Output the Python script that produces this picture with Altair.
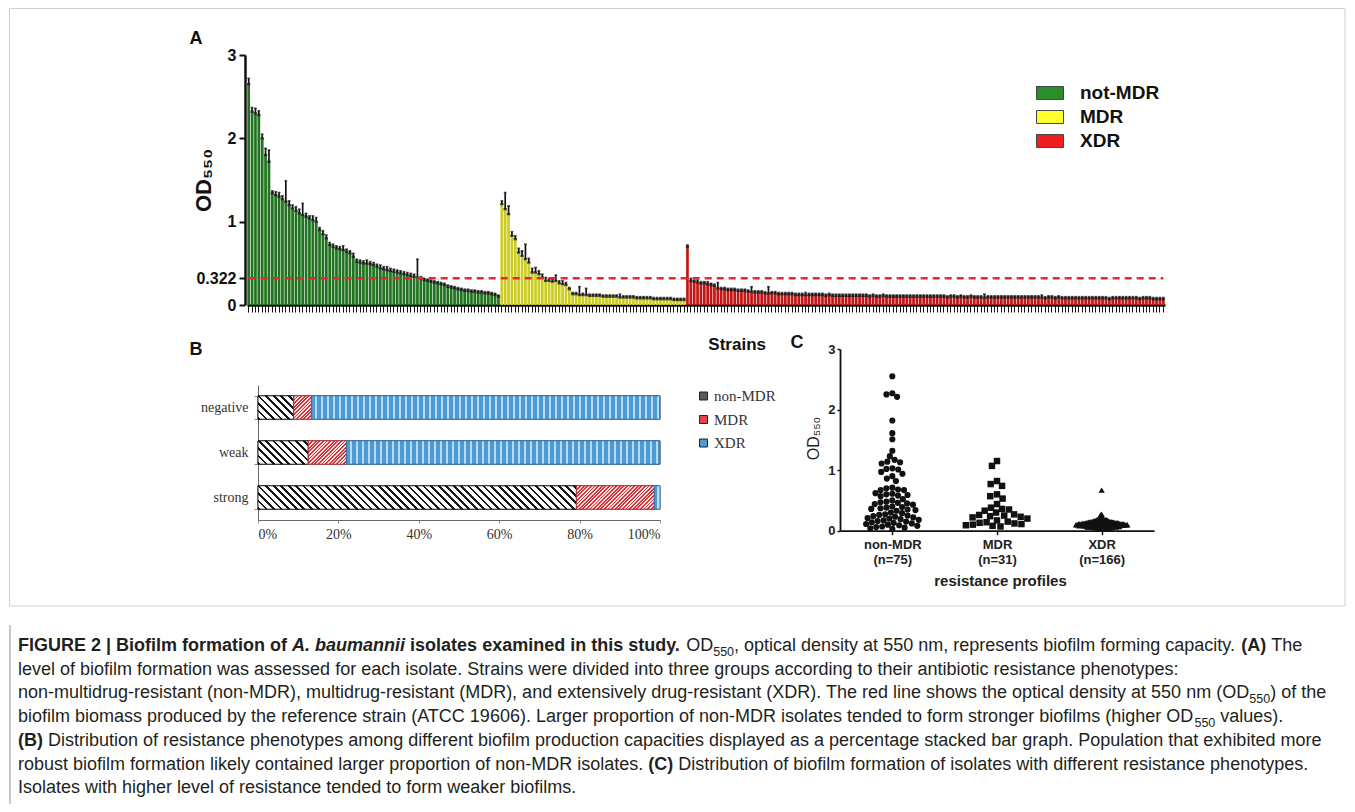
import math
import altair as alt
import pandas as pd

# ============================ DATA ============================
# Panel A : OD550 of every strain (bar) and its error-bar length
A_GROUPS = ["not-MDR", "MDR", "XDR"]
A_NOT_MDR = [
    2.65, 2.32, 2.30, 2.28, 2.00, 1.80, 1.72, 1.34, 1.32, 1.30,
    1.27, 1.24, 1.20, 1.16, 1.13, 1.10, 1.08, 1.06, 1.04, 1.02,
    1.00, 0.90, 0.85, 0.80, 0.72, 0.70, 0.68, 0.67, 0.66, 0.64,
    0.62, 0.58, 0.52, 0.51, 0.50, 0.50, 0.49, 0.48, 0.46, 0.44,
    0.43, 0.42, 0.41, 0.40, 0.39, 0.38, 0.37, 0.36, 0.35, 0.34,
    0.33, 0.32, 0.30, 0.29, 0.28, 0.27, 0.26, 0.25, 0.24, 0.22,
    0.21, 0.20, 0.19, 0.18, 0.17, 0.17, 0.16, 0.16, 0.15, 0.15,
    0.14, 0.14, 0.13, 0.12, 0.10,
]
A_NOT_MDR_ERR = [
    0.07, 0.05, 0.06, 0.05, 0.05, 0.08, 0.14, 0.03, 0.04, 0.05,
    0.04, 0.25, 0.05, 0.04, 0.05, 0.05, 0.14, 0.04, 0.03, 0.05,
    0.05, 0.03, 0.04, 0.04, 0.03, 0.03, 0.03, 0.03, 0.05, 0.03,
    0.03, 0.04, 0.03, 0.03, 0.03, 0.04, 0.03, 0.03, 0.03, 0.04,
    0.03, 0.04, 0.03, 0.03, 0.03, 0.03, 0.03, 0.03, 0.03, 0.03,
    0.22, 0.02, 0.02, 0.02, 0.02, 0.02, 0.02, 0.02, 0.02, 0.02,
    0.02, 0.02, 0.02, 0.02, 0.02, 0.02, 0.02, 0.02, 0.02, 0.02,
    0.02, 0.02, 0.02, 0.02, 0.02,
]
A_MDR = [
    1.21, 1.15, 1.09, 0.83, 0.79, 0.63, 0.59, 0.55, 0.51, 0.39,
    0.39, 0.37, 0.33, 0.29, 0.29, 0.28, 0.29, 0.26, 0.25, 0.24,
    0.19, 0.13, 0.13, 0.12, 0.12, 0.12, 0.11, 0.11, 0.11, 0.11,
    0.10, 0.10, 0.10, 0.10, 0.10, 0.09, 0.09, 0.09, 0.09, 0.09,
    0.08, 0.08, 0.08, 0.08, 0.08, 0.07, 0.07, 0.07, 0.07, 0.07,
    0.07, 0.06, 0.06, 0.06, 0.06,
]
A_MDR_ERR = [
    0.04, 0.20, 0.10, 0.05, 0.04, 0.05, 0.06, 0.18, 0.05, 0.05,
    0.06, 0.04, 0.04, 0.04, 0.03, 0.03, 0.07, 0.03, 0.04, 0.03,
    0.02, 0.02, 0.02, 0.10, 0.02, 0.08, 0.02, 0.02, 0.02, 0.02,
    0.02, 0.02, 0.02, 0.02, 0.02, 0.04, 0.02, 0.02, 0.02, 0.02,
    0.02, 0.02, 0.02, 0.02, 0.02, 0.02, 0.02, 0.02, 0.02, 0.02,
    0.02, 0.02, 0.02, 0.02, 0.02,
]
A_XDR = [
    0.70, 0.29, 0.28, 0.27, 0.26, 0.26, 0.25, 0.24, 0.23, 0.20,
    0.19, 0.19, 0.18, 0.18, 0.18, 0.17, 0.17, 0.17, 0.16, 0.16,
    0.15, 0.15, 0.15, 0.14, 0.14, 0.14, 0.14, 0.13, 0.13, 0.13,
    0.13, 0.13, 0.12, 0.12, 0.12, 0.12, 0.12, 0.12, 0.12, 0.12,
    0.12, 0.11, 0.12, 0.11, 0.11, 0.11, 0.11, 0.11, 0.11, 0.11,
    0.11, 0.11, 0.11, 0.11, 0.10, 0.11, 0.10, 0.10, 0.11, 0.10,
    0.10, 0.10, 0.10, 0.10, 0.10, 0.10, 0.10, 0.10, 0.10, 0.10,
    0.10, 0.10, 0.10, 0.10, 0.10, 0.10, 0.10, 0.09, 0.10, 0.10,
    0.09, 0.10, 0.09, 0.09, 0.10, 0.09, 0.09, 0.09, 0.09, 0.09,
    0.09, 0.09, 0.09, 0.09, 0.09, 0.09, 0.09, 0.09, 0.09, 0.09,
    0.09, 0.09, 0.09, 0.09, 0.09, 0.09, 0.08, 0.09, 0.09, 0.08,
    0.09, 0.08, 0.08, 0.08, 0.08, 0.08, 0.08, 0.08, 0.08, 0.08,
    0.08, 0.08, 0.08, 0.08, 0.08, 0.07, 0.08, 0.08, 0.08, 0.08,
    0.08, 0.08, 0.08, 0.08, 0.07, 0.08, 0.08, 0.08, 0.07, 0.07,
    0.07, 0.07,
]
A_XDR_ERR = [
    0.02, 0.03, 0.02, 0.03, 0.02, 0.02, 0.03, 0.02, 0.02, 0.07,
    0.02, 0.02, 0.02, 0.02, 0.02, 0.02, 0.02, 0.02, 0.02, 0.06,
    0.02, 0.02, 0.02, 0.02, 0.08, 0.02, 0.02, 0.02, 0.02, 0.02,
    0.02, 0.02, 0.02, 0.02, 0.02, 0.03, 0.02, 0.02, 0.02, 0.02,
    0.02, 0.02, 0.02, 0.02, 0.02, 0.02, 0.02, 0.02, 0.02, 0.02,
    0.02, 0.02, 0.02, 0.02, 0.02, 0.02, 0.02, 0.02, 0.02, 0.02,
    0.02, 0.02, 0.02, 0.02, 0.02, 0.02, 0.02, 0.02, 0.02, 0.02,
    0.02, 0.02, 0.02, 0.02, 0.02, 0.02, 0.02, 0.02, 0.02, 0.02,
    0.02, 0.02, 0.02, 0.02, 0.02, 0.02, 0.02, 0.02, 0.04, 0.02,
    0.02, 0.02, 0.02, 0.02, 0.02, 0.02, 0.02, 0.02, 0.02, 0.02,
    0.02, 0.02, 0.02, 0.02, 0.02, 0.03, 0.02, 0.02, 0.02, 0.02,
    0.02, 0.02, 0.02, 0.02, 0.02, 0.02, 0.02, 0.02, 0.02, 0.02,
    0.02, 0.02, 0.02, 0.02, 0.02, 0.02, 0.02, 0.02, 0.02, 0.02,
    0.02, 0.02, 0.02, 0.02, 0.02, 0.02, 0.02, 0.02, 0.02, 0.02,
    0.02, 0.02,
]
A_THRESHOLD = 0.322
A_YTICKS = [0, 0.322, 1, 2, 3]

# Panel B : percentage of each resistance type within each biofilm class
B_LEVELS = ["negative", "weak", "strong"]
B_TYPES = ["non-MDR", "MDR", "XDR"]
B_NON_MDR = [8.9, 12.5, 79.2]
B_MDR = [4.4, 9.5, 19.4]
B_XDR = [86.7, 78.0, 1.4]
B_XTICKS = [0, 20, 40, 60, 80, 100]

# Panel C : OD550 of every isolate per resistance profile
C_GROUPS = ["non-MDR", "MDR", "XDR"]
C_N = [75, 31, 166]
C_NON_MDR = [
    2.55, 2.27, 2.25, 2.21, 1.82, 1.61, 1.51, 1.32, 1.23, 1.17,
    1.14, 1.13, 1.11, 1.03, 1.02, 1.01, 0.97, 0.94, 0.90, 0.86,
    0.82, 0.71, 0.70, 0.68, 0.67, 0.67, 0.62, 0.61, 0.60, 0.59,
    0.58, 0.57, 0.52, 0.50, 0.48, 0.47, 0.46, 0.45, 0.44, 0.43,
    0.40, 0.39, 0.38, 0.37, 0.36, 0.35, 0.34, 0.33, 0.30, 0.29,
    0.27, 0.26, 0.25, 0.24, 0.23, 0.22, 0.21, 0.20, 0.19, 0.18,
    0.17, 0.16, 0.15, 0.14, 0.13, 0.12, 0.11, 0.10, 0.09, 0.08,
    0.07, 0.06, 0.05, 0.04, 0.03,
]
C_MDR = [
    1.15, 1.07, 0.82, 0.77, 0.74, 0.60, 0.57, 0.53, 0.44, 0.38,
    0.36, 0.35, 0.33, 0.30, 0.27, 0.26, 0.25, 0.24, 0.23, 0.22,
    0.20, 0.17, 0.15, 0.14, 0.13, 0.12, 0.11, 0.10, 0.09, 0.08,
    0.07,
]
C_XDR = [
    0.67, 0.27, 0.26, 0.12, 0.11, 0.10,
    0.21, 0.20, 0.20, 0.19, 0.19, 0.19, 0.18, 0.18, 0.18, 0.18,
    0.17, 0.17, 0.17, 0.17, 0.17, 0.16, 0.16, 0.16, 0.16, 0.16,
    0.16, 0.15, 0.15, 0.15, 0.15, 0.15, 0.15, 0.15, 0.15, 0.14,
    0.14, 0.14, 0.14, 0.14, 0.14, 0.14, 0.14, 0.14, 0.14, 0.13,
    0.13, 0.13, 0.13, 0.13, 0.13, 0.13, 0.13, 0.13, 0.13, 0.13,
    0.13, 0.12, 0.12, 0.12, 0.12, 0.12, 0.12, 0.12, 0.12, 0.12,
    0.12, 0.12, 0.12, 0.12, 0.12, 0.11, 0.11, 0.11, 0.11, 0.11,
    0.11, 0.11, 0.11, 0.11, 0.11, 0.11, 0.11, 0.11, 0.11, 0.11,
    0.11, 0.10, 0.10, 0.10, 0.10, 0.10, 0.10, 0.10, 0.10, 0.10,
    0.10, 0.10, 0.10, 0.10, 0.10, 0.10, 0.10, 0.10, 0.10, 0.09,
    0.09, 0.09, 0.09, 0.09, 0.09, 0.09, 0.09, 0.09, 0.09, 0.09,
    0.09, 0.09, 0.09, 0.09, 0.09, 0.08, 0.08, 0.08, 0.08, 0.08,
    0.08, 0.08, 0.08, 0.08, 0.08, 0.08, 0.08, 0.08, 0.08, 0.07,
    0.07, 0.07, 0.07, 0.07, 0.07, 0.07, 0.07, 0.07, 0.07, 0.07,
    0.07, 0.06, 0.06, 0.06, 0.06, 0.06, 0.06, 0.06, 0.06, 0.06,
    0.05, 0.05, 0.05, 0.05, 0.05, 0.05, 0.04, 0.04, 0.04, 0.04,
]

# Caption text (segments: b = bold, bi = bold italic, r = regular, s = subscript)
CAPTION = [
    [("FIGURE 2 | Biofilm formation of ", "b"), ("A. baumannii", "bi"),
     (" isolates examined in this study.", "b"), (" OD", "r"), ("550", "s"),
     (", optical density at 550 nm, represents biofilm forming capacity. ", "r"),
     ("(A)", "b"), (" The", "r")],
    [("level of biofilm formation was assessed for each isolate. Strains were divided into three groups according to their antibiotic resistance phenotypes:", "r")],
    [("non-multidrug-resistant (non-MDR), multidrug-resistant (MDR), and extensively drug-resistant (XDR). The red line shows the optical density at 550 nm (OD", "r"),
     ("550", "s"), (") of the", "r")],
    [("biofilm biomass produced by the reference strain (ATCC 19606). Larger proportion of non-MDR isolates tended to form stronger biofilms (higher OD", "r"),
     ("550", "s"), (" values).", "r")],
    [("(B)", "b"), (" Distribution of resistance phenotypes among different biofilm production capacities displayed as a percentage stacked bar graph. Population that exhibited more", "r")],
    [("robust biofilm formation likely contained larger proportion of non-MDR isolates. ", "r"), ("(C)", "b"),
     (" Distribution of biofilm formation of isolates with different resistance phenotypes.", "r")],
    [("Isolates with higher level of resistance tended to form weaker biofilms.", "r")],
]

# ============================ STYLE ============================
SANS = "Liberation Sans"
SERIF = "Liberation Serif"
INK = "#111111"
A_COLORS = ["#2a8f2a", "#ffff30", "#f01e1e"]   # legend colours; bars are shaded darker
B_LEGEND_COLORS = ["#5a5a5a", "#e0474d", "#4b9bd7"]
W, H = 1339, 796  # drawing area (page minus 8px margin)

# ---------------- Panel A ----------------
rowsA = []
k = 0
for g, vals, errs in zip(A_GROUPS, [A_NOT_MDR, A_MDR, A_XDR],
                         [A_NOT_MDR_ERR, A_MDR_ERR, A_XDR_ERR]):
    for v, e in zip(vals, errs):
        rowsA.append({"idx": k, "group": g, "od": v, "top": round(v + e, 3)})
        k += 1
dfA = pd.DataFrame(rowsA)
nA = len(dfA)

xA_scale = alt.Scale(type="band", domain=list(range(nA)), range=[239, 1157],
                     paddingInner=0.2, paddingOuter=0.1)
xA_axis = alt.Axis(orient="bottom", offset=297 - H, labels=False, ticks=True,
                   tickSize=7, tickWidth=1, tickColor=INK, domainColor=INK,
                   domainWidth=2.5, title=None, grid=False)
yA_scale = alt.Scale(domain=[0, 3], range=[297, 47], nice=False, zero=True)
yA_axis = alt.Axis(orient="left", offset=-237, values=A_YTICKS, format=".3~f",
                   labelFont=SANS, labelFontWeight="bold", labelFontSize=16,
                   labelColor=INK, labelPadding=3, tickSize=6, tickWidth=2,
                   tickColor=INK, domainColor=INK, domainWidth=2.5, grid=False,
                   title="OD₅₅₀", titleFont=SANS, titleFontSize=22,
                   titleFontWeight="bold", titleColor=INK, titleAngle=270,
                   titleX=-42, titleY=172, titleAlign="center",
                   titleBaseline="middle")


def XA(f):
    return alt.X(f, scale=xA_scale, axis=xA_axis)


def YA(f):
    return alt.Y(f, scale=yA_scale, axis=yA_axis)


baseA = alt.Chart(dfA)
barsA = baseA.mark_bar().encode(
    x=XA("idx:O"), y=YA("od:Q"),
    color=alt.Color("group:N", scale=alt.Scale(domain=A_GROUPS, range=A_COLORS),
                    legend=alt.Legend(orient="none", legendX=1028, legendY=71, title=None,
                                      symbolType="M-1,-0.48H1V0.48H-1Z", symbolSize=729,
                                      symbolStrokeColor="#444", symbolStrokeWidth=1,
                                      labelFont=SANS, labelFontSize=19,
                                      labelFontWeight="bold", labelColor=INK,
                                      labelOffset=16, rowPadding=-4, padding=0)))
shadeA = baseA.mark_bar(color="#000000", opacity=0.2).encode(x=XA("idx:O"), y=YA("od:Q"))
topA = baseA.mark_tick(color=INK, thickness=2.4, size=3.4).encode(x=XA("idx:O"), y=YA("od:Q"))
errA = baseA.mark_rule(color=INK, strokeWidth=1.7).encode(x=XA("idx:O"), y=YA("od:Q"), y2="top:Q")
capA = baseA.mark_tick(color=INK, thickness=1.6, size=2.8).encode(x=XA("idx:O"), y=YA("top:Q"))
thrA = alt.Chart(pd.DataFrame({"i0": [0], "i1": [nA - 1], "y": [A_THRESHOLD]})).mark_rule(
    color="#e8262d", strokeDash=[7, 5], strokeWidth=2.5).encode(
    x=XA("i0:O"), x2="i1:O", y=YA("y:Q"))
panelA = alt.layer(barsA, shadeA, topA, errA, capA, thrA)

# ---------------- Panel B ----------------
B_X0, B_X1 = 250, 652
B_BAR_H = 23.4
rowsB = []
for li, lvl in enumerate(B_LEVELS):
    start = 0.0
    for t, arr in zip(B_TYPES, [B_NON_MDR, B_MDR, B_XDR]):
        v = arr[li]
        rowsB.append({"level": lvl, "type": t, "pct": v, "start": start, "end": start + v})
        start += v
dfB = pd.DataFrame(rowsB)

xB = alt.X("start:Q", scale=alt.Scale(domain=[0, 100], range=[B_X0, B_X1], nice=False, zero=False),
           axis=alt.Axis(orient="bottom", offset=512 - H, values=B_XTICKS,
                         labelExpr="datum.value + '%'", labelFont=SERIF, labelFontSize=14,
                         labelColor="#333", labelPadding=4, tickSize=3, tickColor="#888",
                         domainColor="#666", title=None, grid=False))
yB = alt.Y("level:N", scale=alt.Scale(type="band", domain=B_LEVELS, range=[377, 512],
                                      paddingInner=0.48, paddingOuter=0.24),
           axis=alt.Axis(orient="left", offset=-B_X0, labelFont=SERIF, labelFontSize=14,
                         labelColor="#333", labelPadding=6, tickSize=4, tickColor="#888",
                         tickBand="extent", domainColor="#666", title=None, grid=False))


def stripes(n, c1, c2, frac):
    n = max(n, 1.0)
    stops = []
    j = 0
    while j < n:
        a = j / n
        b = min((j + frac) / n, 1.0)
        c = min((j + 1) / n, 1.0)
        stops += [{"offset": round(a, 5), "color": c1}, {"offset": round(b, 5), "color": c1}]
        if b < 1.0:
            stops += [{"offset": round(b, 5), "color": c2}, {"offset": round(c, 5), "color": c2}]
        j += 1
    return stops


def grad_back(w, h, period, c1, c2, frac):   # "\\" hatching
    s = (w + h) / (w * w + h * h)
    return {"gradient": "linear", "x1": 0, "y1": 1, "x2": s * w, "y2": 1 - s * h,
            "stops": stripes((w + h) / period, c1, c2, frac)}


def grad_fwd(w, h, period, c1, c2, frac):    # "/" hatching
    s = (w + h) / (w * w + h * h)
    return {"gradient": "linear", "x1": 0, "y1": 0, "x2": s * w, "y2": s * h,
            "stops": stripes((w + h) / period, c1, c2, frac)}


def grad_vert(w, period, c1, c2, frac):      # vertical stripes
    return {"gradient": "linear", "x1": 0, "y1": 0, "x2": 1, "y2": 0,
            "stops": stripes(w / period, c1, c2, frac)}


barsB_base = alt.Chart(dfB).mark_bar(stroke="#222", strokeWidth=0.8).encode(
    y=yB, x=xB, x2="end:Q",
    color=alt.Color("type:N", scale=alt.Scale(domain=B_TYPES, range=B_LEGEND_COLORS),
                    legend=alt.Legend(orient="none", legendX=688, legendY=380.5, title=None,
                                      symbolType="square", symbolSize=64,
                                      symbolStrokeColor="#222", symbolStrokeWidth=1,
                                      labelFont=SERIF, labelFontSize=15, labelColor="#333",
                                      labelOffset=3, rowPadding=7.5, padding=0)))
overlaysB = []
for r in rowsB:
    w = r["pct"] / 100.0 * (B_X1 - B_X0)
    if r["type"] == "non-MDR":
        fill = grad_back(w, B_BAR_H, 7.5, "#161616", "#ffffff", 0.36)
        stroke = "#111"
    elif r["type"] == "MDR":
        fill = grad_fwd(w, B_BAR_H, 3.6, "#d8343a", "#fbe3e3", 0.5)
        stroke = "#b52a2f"
    else:
        fill = grad_vert(w, 6.0, "#4d9bd6", "#b8dbf3", 0.55)
        stroke = "#2f6fae"
    overlaysB.append(
        alt.Chart(dfB).transform_filter(
            f"datum.level == '{r['level']}' && datum.type == '{r['type']}'"
        ).mark_bar(fill=fill, stroke=stroke, strokeWidth=0.9).encode(y=yB, x=xB, x2="end:Q"))
panelB = alt.layer(barsB_base, *overlaysB)

# ---------------- Panel C ----------------
C_X0, C_X1 = 832, 1146
C_Y0, C_Y1 = 522.7, 341
C_PPU_X = (C_X1 - C_X0) / 3.0
C_PPU_Y = (C_Y0 - C_Y1) / 3.0


def swarm(vals, diam):
    order = sorted(range(len(vals)), key=lambda i: -vals[i])
    placed = []
    xs = [0.0] * len(vals)
    for i in order:
        y = vals[i] * C_PPU_Y
        near = [(px, py) for (px, py) in placed if abs(py - y) < diam]
        cands = [0.0]
        for px, py in near:
            dx = math.sqrt(max(diam * diam - (py - y) ** 2, 0.0))
            cands += [px + dx, px - dx]
        cands.sort(key=lambda c: (abs(c), c))
        for c in cands:
            if all((c - px) ** 2 + (y - py) ** 2 >= diam * diam - 1e-6 for px, py in near):
                xs[i] = c
                break
        placed.append((xs[i], y))
    return xs


rowsC = []
for gi, (g, vals, diam) in enumerate(zip(C_GROUPS, [C_NON_MDR, C_MDR, C_XDR], [6.0, 7.0, 1.3])):
    offs = swarm(vals, diam)
    for v, o in zip(vals, offs):
        rowsC.append({"group": g, "od": v, "xpos": gi + 0.5 + o / C_PPU_X})
dfC = pd.DataFrame(rowsC)

label_expr = "datum.value < 1 ? ['%s', '(n=%d)'] : (datum.value < 2 ? ['%s', '(n=%d)'] : ['%s', '(n=%d)'])" % (
    C_GROUPS[0], C_N[0], C_GROUPS[1], C_N[1], C_GROUPS[2], C_N[2])
xC = alt.X("xpos:Q", scale=alt.Scale(domain=[0, 3], range=[C_X0, C_X1], nice=False, zero=False),
           axis=alt.Axis(orient="bottom", offset=C_Y0 - H, values=[0.5, 1.5, 2.5],
                         labelExpr=label_expr, labelFont=SANS, labelFontWeight="bold",
                         labelFontSize=13, labelColor="#222", labelLineHeight=15,
                         labelPadding=4, labelOverlap=False, tickSize=4, tickWidth=1.5,
                         tickColor=INK, domainColor=INK, domainWidth=1.8, grid=False,
                         title="resistance profiles", titleFont=SANS, titleFontWeight="bold",
                         titleFontSize=15, titleColor="#222", titleX=992, titleY=50,
                         titleAlign="center", titleBaseline="middle", titleAngle=0))
yC = alt.Y("od:Q", scale=alt.Scale(domain=[0, 3], range=[C_Y0, C_Y1], nice=False, zero=True),
           axis=alt.Axis(orient="left", offset=-C_X0, values=[0, 1, 2, 3], labelFont=SANS,
                         labelFontWeight="bold", labelFontSize=13, labelColor="#222",
                         labelPadding=2, tickSize=3, tickWidth=1.5, tickColor=INK,
                         domainColor=INK, domainWidth=1.8, grid=False, title="OD₅₅₀",
                         titleFont=SANS, titleFontWeight="normal", titleFontSize=16,
                         titleColor="#222", titleAngle=270, titleX=-27, titleY=430,
                         titleAlign="center", titleBaseline="middle"))
baseC = alt.Chart(dfC)
ptsC1 = baseC.transform_filter(f"datum.group == '{C_GROUPS[0]}'").mark_circle(
    size=38, color=INK, opacity=1).encode(x=xC, y=yC)
ptsC2 = baseC.transform_filter(f"datum.group == '{C_GROUPS[1]}'").mark_square(
    size=42, color=INK, opacity=1).encode(x=xC, y=yC)
ptsC3 = baseC.transform_filter(f"datum.group == '{C_GROUPS[2]}'").mark_point(
    shape="triangle-up", filled=True, size=40, color=INK, opacity=1).encode(x=xC, y=yC)
panelC = alt.layer(ptsC1, ptsC2, ptsC3)


# ---------------- text: panel letters, caption ----------------
def label(text, x, y, size=18, align="center", weight="bold"):
    return alt.Chart(pd.DataFrame({"t": [text]})).mark_text(
        font=SANS, fontSize=size, fontWeight=weight, color=INK, align=align,
        baseline="alphabetic").encode(x=alt.value(x), y=alt.value(y), text="t:N")


labels = [
    label("A", 188, 36),
    label("B", 188, 347),
    label("C", 789, 340),
    label("Strains", 758, 342, size=17, align="right"),
]

REG = dict(zip("ABCDEFGHIJKLMNOPQRSTUVWXYZ",
               [667, 667, 722, 722, 667, 611, 778, 722, 278, 500, 667, 556, 833, 722, 778,
                667, 778, 722, 667, 611, 722, 667, 944, 667, 667, 611]))
REG.update(zip("abcdefghijklmnopqrstuvwxyz",
               [556, 556, 500, 556, 556, 278, 556, 556, 222, 222, 500, 222, 833, 556, 556,
                556, 556, 333, 500, 278, 556, 500, 722, 500, 500, 500]))
REG.update({" ": 278, "(": 333, ")": 333, ",": 278, "-": 333, ".": 278, ":": 278, "|": 260})
REG.update({d: 556 for d in "0123456789"})
BOLD = dict(zip("ABCDEFGHIJKLMNOPQRSTUVWXYZ",
                [722, 722, 722, 722, 667, 611, 778, 722, 278, 556, 722, 611, 833, 722, 778,
                 667, 778, 722, 667, 611, 722, 667, 944, 667, 667, 611]))
BOLD.update(zip("abcdefghijklmnopqrstuvwxyz",
                [556, 611, 556, 611, 556, 333, 611, 611, 278, 278, 556, 278, 889, 611, 611,
                 611, 611, 389, 556, 333, 611, 556, 778, 556, 556, 500]))
BOLD.update({" ": 278, "(": 333, ")": 333, ",": 278, "-": 333, ".": 278, ":": 333, "|": 280})
BOLD.update({d: 556 for d in "0123456789"})

CAP_SIZE, SUB_SIZE = 18.0, 12.5


def tw(s, style):
    size = SUB_SIZE if style == "s" else CAP_SIZE
    table = BOLD if style in ("b", "bi") else REG
    return sum(table.get(ch, 556) for ch in s) * size / 1000.0


cap_rows = []
for li, segs in enumerate(CAPTION):
    xcur = 10.0
    ybase = 643 + li * 23.7
    for text, style in segs:
        lead = len(text) - len(text.lstrip(" "))
        cap_rows.append({"t": text.strip(" "), "px": xcur + tw(text[:lead], style),
                         "py": ybase + (4.5 if style == "s" else 0), "style": style})
        xcur += tw(text, style)
dfCap = pd.DataFrame(cap_rows)

cap_layers = []
for style, kw in [("r", dict(fontWeight="normal", fontSize=CAP_SIZE)),
                  ("b", dict(fontWeight="bold", fontSize=CAP_SIZE)),
                  ("bi", dict(fontWeight="bold", fontStyle="italic", fontSize=CAP_SIZE)),
                  ("s", dict(fontWeight="normal", fontSize=SUB_SIZE))]:
    cap_layers.append(
        alt.Chart(dfCap).transform_filter(f"datum.style == '{style}'").mark_text(
            font=SANS, color="#231f20", align="left", baseline="alphabetic", **kw).encode(
            x=alt.X("px:Q", scale=None, axis=None), y=alt.Y("py:Q", scale=None, axis=None),
            text="t:N"))

frame = alt.Chart(pd.DataFrame({"k": [0]})).mark_rect(
    fill="transparent", stroke="#cfcfcf", strokeWidth=1).encode(
    x=alt.value(1.5), x2=alt.value(1337), y=alt.value(0.5), y2=alt.value(598))
capbar = alt.Chart(pd.DataFrame({"k": [0]})).mark_rule(color="#c8c8c8", strokeWidth=2).encode(
    x=alt.value(2), y=alt.value(617), y2=alt.value(796))

chart = alt.layer(frame, capbar, panelA, panelB, panelC, *labels, *cap_layers).resolve_scale(
    x="independent", y="independent", color="independent"
).resolve_legend(color="independent").properties(
    width=W, height=H, padding=0, background="white",
    autosize=alt.AutoSizeParams(type="none")
).configure_view(stroke=None)

chart.save("out.html", embed_options={"renderer": "svg", "actions": False})
